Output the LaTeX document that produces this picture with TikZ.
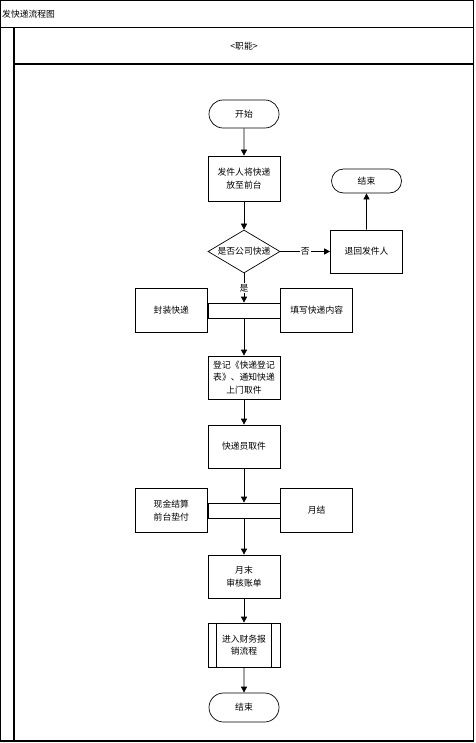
\documentclass[tikz,border=0pt]{standalone}
\usepackage{fontspec}
\setmainfont{Noto Sans CJK SC}
\usetikzlibrary{
    positioning,
    shapes.geometric,
    shapes.misc,
    arrows.meta}
\tikzset{box/.style={draw, line width=0.7pt, minimum width=72pt, minimum height=43pt, align=center, inner sep=1pt}}
\tikzset{term/.style={draw, line width=0.7pt, rounded rectangle, minimum width=72pt, inner sep=1pt}}
\tikzset{dec/.style={draw, line width=0.7pt, diamond, aspect=1.7, inner sep=0pt, minimum width=72pt, minimum height=43pt}}
\tikzset{bar/.style={draw, line width=0.7pt, minimum width=72pt, minimum height=15pt, inner sep=0pt}}
\tikzset{flow/.style={line width=0.7pt, -{Triangle[length=6pt, width=6pt]}}}
\tikzset{lane/.style={line width=1.1pt}}
\tikzset{lbl/.style={fill=white, inner sep=1pt}}
\begin{document}
\begin{tikzpicture}[x=1pt, y=-1pt, node distance=0pt, font=\fontsize{8.8pt}{12.5pt}\selectfont]

    \useasboundingbox (0,0) rectangle (475,743);

    % frame
    \draw[lane] (0.5,0.5) rectangle (473.5,741);
    \draw[lane] (0.5,27.5) -- (473.5,27.5);
    \draw[lane] (14,27.5) -- (14,741);
    \draw[lane] (14,64) -- (473.5,64);
    \node(title)[anchor=west, inner sep=0pt] at (2,14){发快递流程图};
    \node(role) at (244,46){<职能>};

    % top
    \node(start)[term, minimum height=28pt] at (244,114){开始};
    \node(put)[box, minimum height=45pt] at (244,178.5){发件人将快递\\放至前台};
    \node(dec)[dec] at (244,251.5){是否公司快递};
    \node(ret)[box] at (366.5,251.5){退回发件人};
    \node(endA)[term, minimum height=24pt] at (366.5,181){结束};

    % first split
    \node(barA)[bar] at (244,310.5){};
    \node(pack)[box, minimum height=44pt, left=of barA]{封装快递};
    \node(fill)[box, minimum height=44pt, right=of barA]{填写快递内容};

    % middle
    \node(reg)[box] at (244,377.5){登记《快递登记\\表》、通知快递\\上门取件};
    \node(pick)[box] at (244,446.5){快递员取件};

    % second split
    \node(barB)[bar] at (244,510.5){};
    \node(cash)[box, minimum height=44pt, left=of barB]{现金结算\\前台垫付};
    \node(month)[box, minimum height=44pt, right=of barB]{月结};

    % bottom
    \node(audit)[box] at (244,576.5){月末\\审核账单};
    \node(fin)[box, minimum height=44pt] at (244,645){进入财务报\\销流程};
    \draw[line width=0.7pt] ([xshift=9pt]fin.north west) -- ([xshift=9pt]fin.south west);
    \draw[line width=0.7pt] ([xshift=-9pt]fin.north east) -- ([xshift=-9pt]fin.south east);
    \node(endB)[term, minimum height=29pt] at (244,707.5){结束};

    % arrows
    \draw[flow] (start) -- (put);
    \draw[flow] (put) -- (dec);
    \draw[flow] (dec) -- node[lbl]{否} (ret);
    \draw[flow] (ret) -- (endA);
    \draw[flow] (dec) -- node[lbl]{是} (barA);
    \draw[flow] (barA) -- (reg);
    \draw[flow] (reg) -- (pick);
    \draw[flow] (pick) -- (barB);
    \draw[flow] (barB) -- (audit);
    \draw[flow] (audit) -- (fin);
    \draw[flow] (fin) -- (endB);

\end{tikzpicture}
\end{document}
